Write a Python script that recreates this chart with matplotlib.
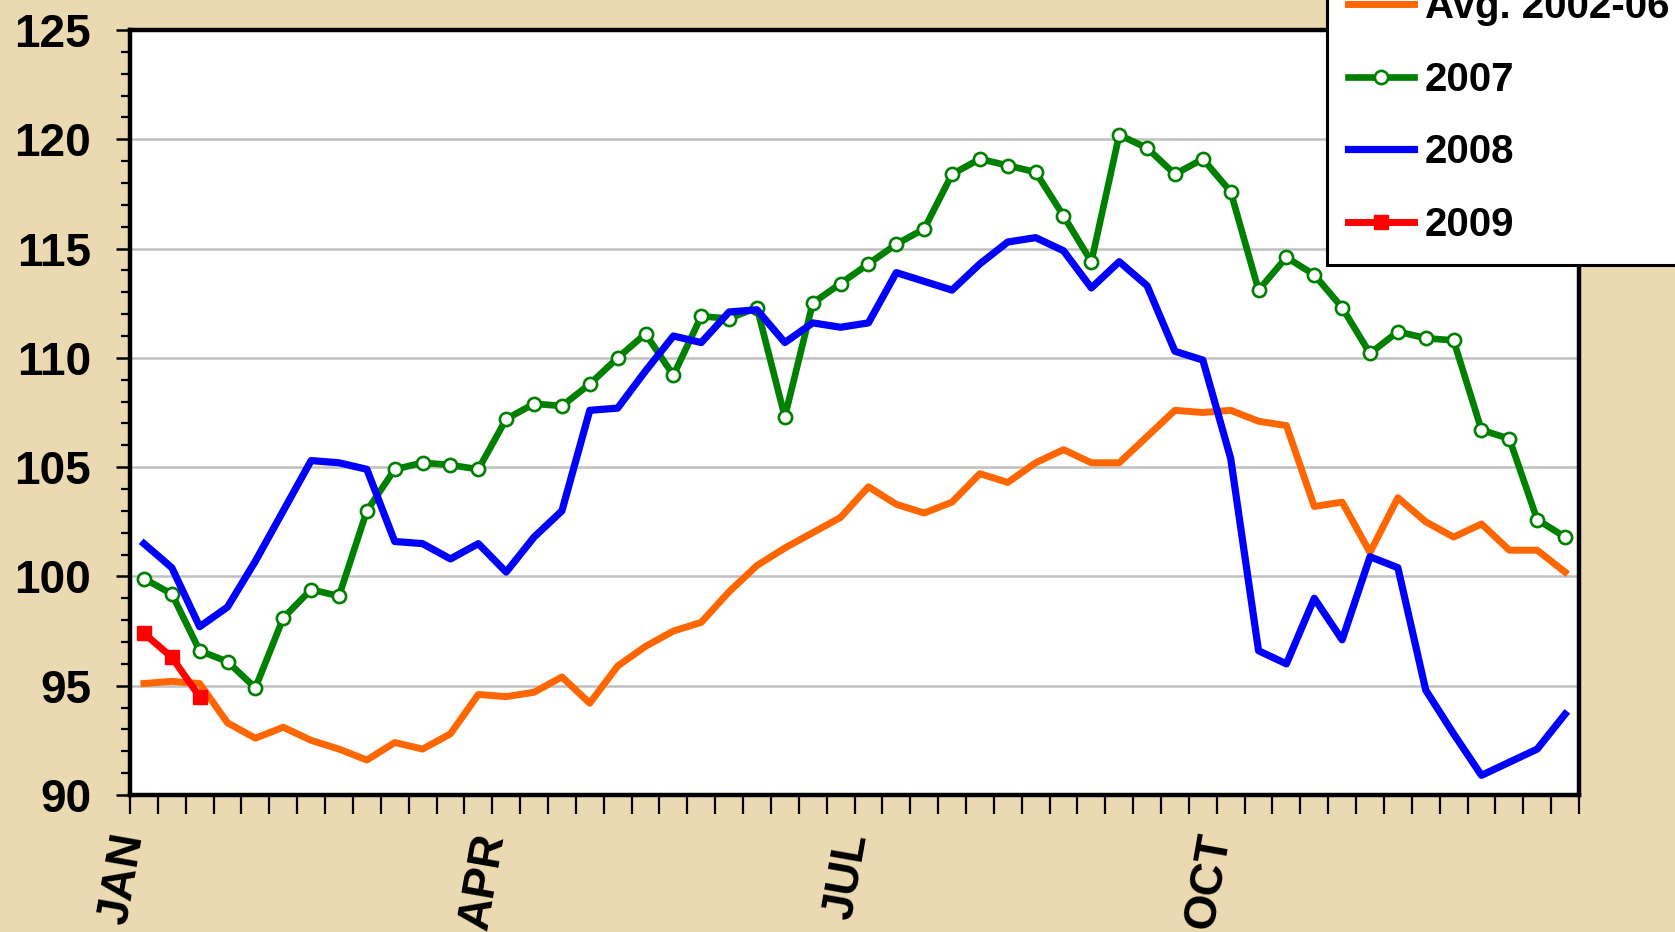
import numpy as np
import matplotlib
matplotlib.use("Agg")
import matplotlib.pyplot as plt
from matplotlib.ticker import MultipleLocator

plt.rcParams['font.family'] = ['Liberation Sans', 'DejaVu Sans']
plt.rcParams['font.weight'] = 'bold'

weeks = np.arange(1, 53)
month_labels = {0: 'JAN', 13: 'APR', 26: 'JUL', 39: 'OCT'}

avg_2002_06 = [95.1, 95.2, 95.1, 93.3, 92.6, 93.1, 92.5, 92.1, 91.6, 92.4,
               92.1, 92.8, 94.6, 94.5, 94.7, 95.4, 94.2, 95.9, 96.8, 97.5,
               97.9, 99.3, 100.5, 101.3, 102.0, 102.7, 104.1, 103.3, 102.9, 103.4,
               104.7, 104.3, 105.2, 105.8, 105.2, 105.2, 106.4, 107.6, 107.5, 107.6,
               107.1, 106.9, 103.2, 103.4, 101.1, 103.6, 102.5, 101.8, 102.4, 101.2,
               101.2, 100.2]

y2007 = [99.9, 99.2, 96.6, 96.1, 94.9, 98.1, 99.4, 99.1, 103.0, 104.9,
         105.2, 105.1, 104.9, 107.2, 107.9, 107.8, 108.8, 110.0, 111.1, 109.2,
         111.9, 111.8, 112.3, 107.3, 112.5, 113.4, 114.3, 115.2, 115.9, 118.4,
         119.1, 118.8, 118.5, 116.5, 114.4, 120.2, 119.6, 118.4, 119.1, 117.6,
         113.1, 114.6, 113.8, 112.3, 110.2, 111.2, 110.9, 110.8, 106.7, 106.3,
         102.6, 101.8]

y2008 = [101.5, 100.4, 97.7, 98.6, 100.7, 103.0, 105.3, 105.2, 104.9, 101.6,
         101.5, 100.8, 101.5, 100.2, 101.8, 103.0, 107.6, 107.7, 109.4, 111.0,
         110.7, 112.1, 112.2, 110.7, 111.6, 111.4, 111.6, 113.9, 113.5, 113.1,
         114.3, 115.3, 115.5, 114.9, 113.2, 114.4, 113.3, 110.3, 109.9, 105.4,
         96.6, 96.0, 99.0, 97.1, 100.9, 100.4, 94.8, 92.8, 90.9, 91.5,
         92.1, 93.7]

y2009 = [97.4, 96.3, 94.5]

W, H = 1675, 932
fig = plt.figure(figsize=(W / 100, H / 100), dpi=100, facecolor='#EBD9B2')
ax = fig.add_axes([130 / W, 1 - 795 / H, (1579 - 130) / W, (795 - 30) / H])
ax.set_facecolor('white')

xc = weeks - 0.5
l_avg, = ax.plot(xc, avg_2002_06, color='#FF6600', lw=5.0, label='Avg. 2002-06', zorder=3)
l07, = ax.plot(xc, y2007, color='#008000', lw=4.8, marker='o', ms=9.5, mfc='white', mec='#008000', mew=1.9,
               label='2007', zorder=4)
l08, = ax.plot(xc, y2008, color='#0000FF', lw=5.2, label='2008', zorder=5)
l09, = ax.plot(xc[:len(y2009)], y2009, color='#FF0000', lw=5.0, marker='s', ms=10.5, mfc='#FF0000', mec='#FF0000',
               label='2009', zorder=6)

ax.set_xlim(0, 52)
ax.set_ylim(90, 125)
ax.yaxis.set_major_locator(MultipleLocator(5))
ax.yaxis.set_minor_locator(MultipleLocator(1))
ax.grid(axis='y', which='major', color='#C0C0C0', lw=1.8, zorder=1)
ax.set_axisbelow(True)

xt = np.arange(0, 53)
ax.set_xticks(xt)
ax.set_xticklabels([month_labels.get(int(t), '') for t in xt], rotation=80, rotation_mode='anchor',
                   ha='right', va='center', fontsize=33, fontweight='bold')
ax.tick_params(axis='x', direction='out', length=14, width=1.6, pad=14, color='black')
ax.tick_params(axis='y', which='major', direction='out', length=10, width=1.8, pad=18, labelsize=33)
ax.tick_params(axis='y', which='minor', direction='out', length=6.5, width=1.6)
for lab in ax.get_yticklabels():
    lab.set_fontweight('bold')

for s in ax.spines.values():
    s.set_linewidth(3.2)
    s.set_color('black')

leg = ax.legend(handles=[l_avg, l07, l08, l09], loc='lower left',
                bbox_to_anchor=(1327 / W, 1 - 265 / H), bbox_transform=fig.transFigure,
                borderaxespad=0, prop={'weight': 'bold', 'size': 29},
                handlelength=1.64, handletextpad=0.27, labelspacing=0.86, borderpad=0.52,
                numpoints=1, fancybox=False, framealpha=1, facecolor='white', edgecolor='black')
leg.get_frame().set_linewidth(2.2)
leg.set_zorder(10)

fig.savefig('out.png', dpi=100, facecolor=fig.get_facecolor())
